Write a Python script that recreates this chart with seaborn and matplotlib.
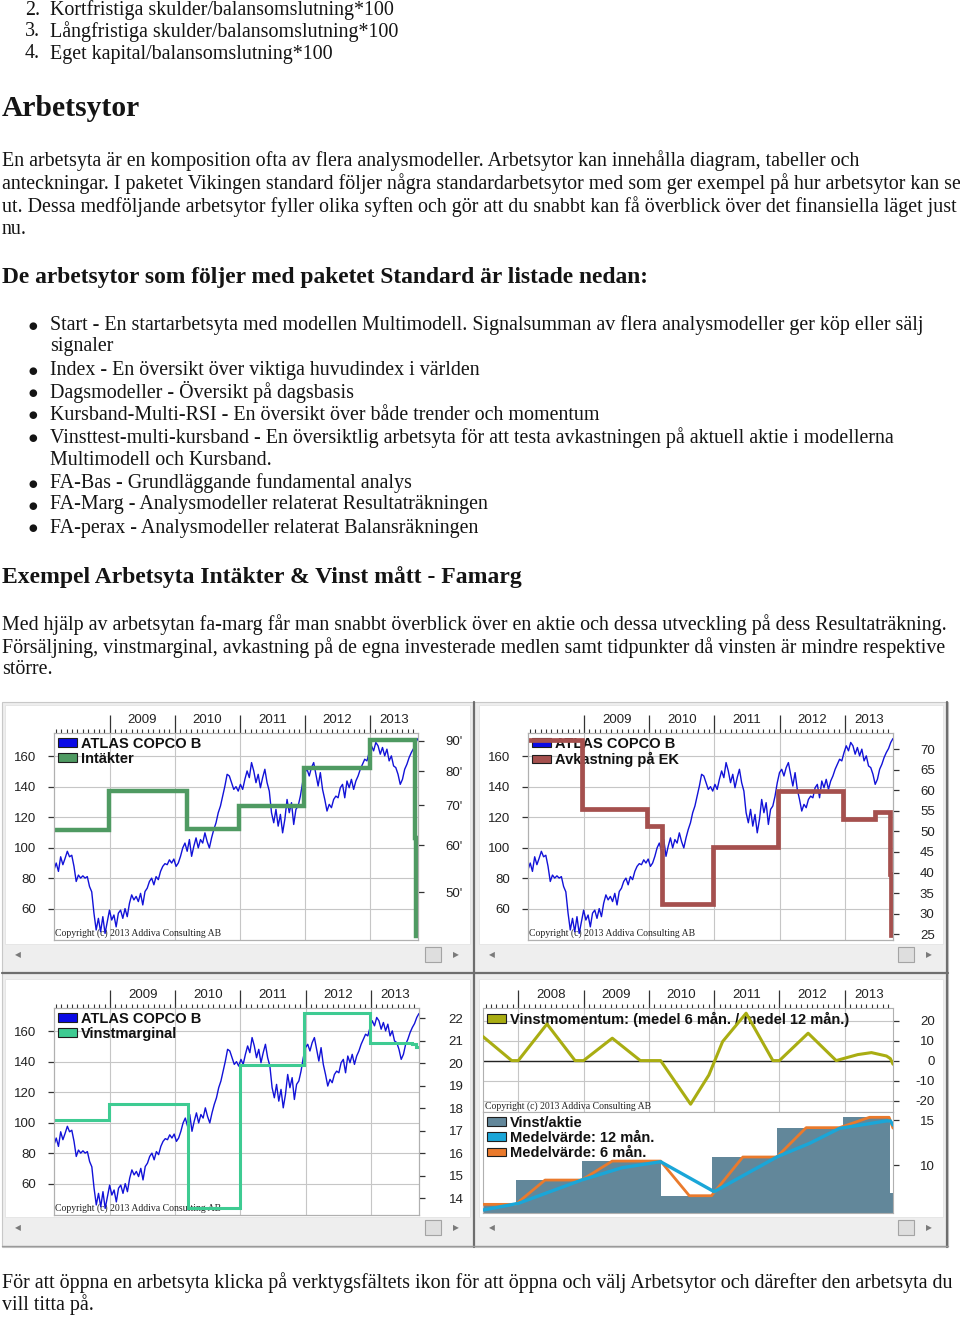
import numpy as np
import pandas as pd
import matplotlib
matplotlib.use("Agg")
import matplotlib.pyplot as plt
import seaborn as sns
from matplotlib.patches import Rectangle, Patch
from matplotlib.lines import Line2D
from matplotlib.ticker import FixedLocator, NullLocator

# ---------------------------------------------------------------- data
numbered_nums = ["2.", "3.", "4."]
numbered_items = ["Kortfristiga skulder/balansomslutning*100",
                  "Långfristiga skulder/balansomslutning*100",
                  "Eget kapital/balansomslutning*100"]
heading1 = "Arbetsytor"
para1 = ["En arbetsyta är en komposition ofta av flera analysmodeller. Arbetsytor kan innehålla diagram, tabeller och",
         "anteckningar. I paketet Vikingen standard följer några standardarbetsytor med som ger exempel på hur arbetsytor kan se",
         "ut. Dessa medföljande arbetsytor fyller olika syften och gör att du snabbt kan få överblick över det finansiella läget just",
         "nu."]
heading2 = "De arbetsytor som följer med paketet Standard är listade nedan:"
bullets = [("Start - En startarbetsyta med modellen Multimodell. Signalsumman av flera analysmodeller ger köp eller sälj", True),
           ("signaler", False),
           ("Index - En översikt över viktiga huvudindex i världen", True),
           ("Dagsmodeller - Översikt på dagsbasis", True),
           ("Kursband-Multi-RSI - En översikt över både trender och momentum", True),
           ("Vinsttest-multi-kursband - En översiktlig arbetsyta för att testa avkastningen på aktuell aktie i modellerna", True),
           ("Multimodell och Kursband.", False),
           ("FA-Bas - Grundläggande fundamental analys", True),
           ("FA-Marg - Analysmodeller relaterat Resultaträkningen", True),
           ("FA-perax - Analysmodeller relaterat Balansräkningen", True)]
heading3 = "Exempel Arbetsyta Intäkter & Vinst mått - Famarg"
para2 = ["Med hjälp av arbetsytan fa-marg får man snabbt överblick över en aktie och dessa utveckling på dess Resultaträkning.",
         "Försäljning, vinstmarginal, avkastning på de egna investerade medlen samt tidpunkter då vinsten är mindre respektive",
         "större."]
para3 = ["För att öppna en arbetsyta klicka på verktygsfältets ikon för att öppna och välj Arbetsytor och därefter den arbetsyta du",
         "vill titta på."]

years = [2008, 2009, 2010, 2011, 2012, 2013]
year_labels = ["2008", "2009", "2010", "2011", "2012", "2013"]
START_A, START_B, DATA_END = 2008.14, 2007.46, 2013.74

stock_name = "ATLAS COPCO B"
stock_price = [85.5, 89.9, 84.4, 94, 88.8, 93, 97.6, 94, 95, 87.7, 77.8, 82, 80, 81.5, 80, 81, 74.5, 71,
               57, 46, 53.6, 44.8, 54.7, 43.7, 51.4, 59, 52.5, 55.8, 48, 57, 59, 53.6, 60, 54.7, 63.5,
               69, 65.7, 68, 64.6, 70, 62.4, 71.2, 73.4, 77.8, 80, 75.6, 81, 79, 84.4, 87.7, 89.5, 88.8,
               92, 89.9, 92.5, 87.7, 89.9, 94.3, 99.8, 103, 97.6, 105.3, 94.3, 100.9, 106.4, 99.8, 105.3,
               103, 109.7, 104, 99.8, 106.4, 111.9, 116.3, 122.9, 127.3, 133.8, 140.4, 148.1, 147, 142.6,
               138.2, 140, 137.1, 141.5, 138.2, 144.8, 150.3, 145.9, 155.8, 150.3, 142.6, 148.1, 139.3,
               145.9, 151.4, 142.6, 137.1, 122.9, 116.3, 125.1, 114.1, 121.8, 109.7, 118.5, 131.6, 122.9,
               129.5, 115.2, 125.1, 127.3, 133.8, 142.6, 149.2, 151.4, 147, 152.5, 155.8, 148.1, 140.4,
               149.2, 138.2, 131.6, 124, 128.4, 126.2, 131.6, 133.8, 132.7, 139.3, 141.5, 132.7, 143.7,
               139.3, 144.8, 138.2, 143.7, 147, 151.4, 154.7, 158, 156.9, 162.4, 166.8, 163.5, 169, 166.8,
               161.3, 165.7, 160.2, 164.6, 156.9, 160.2, 153.6, 152.5, 148.1, 141.5, 144.8, 151.4, 154.7,
               159.1, 162.4, 165, 169, 171.6]
stock_ticks = [60, 80, 100, 120, 140, 160]

intakter_t = [2008.14, 2008.99, 2010.18, 2010.99, 2011.98, 2013.0, 2013.69, 2013.71]
intakter_v = [63.7, 74.0, 63.9, 69.9, 81.1, 90.2, 61.6, 42.2]
intakter_ticks = [50, 60, 70, 80, 90]
intakter_labels = ["50'", "60'", "70'", "80'", "90'"]

avk_t = [2008.14, 2008.97, 2009.97, 2010.2, 2010.98, 2011.97, 2012.98, 2013.47, 2013.69, 2013.71]
avk_v = [72.3, 55.5, 51.4, 32.4, 46.1, 59.9, 53.0, 54.7, 39.7, 24.8]
avk_ticks = [25, 30, 35, 40, 45, 50, 55, 60, 65, 70]

marg_t = [2008.14, 2008.99, 2010.2, 2010.99, 2011.98, 2012.99, 2013.64, 2013.70]
marg_v = [17.48, 18.18, 13.56, 19.93, 22.22, 20.92, 20.85, 20.74]
marg_ticks = [14, 15, 16, 17, 18, 19, 20, 21, 22]

mom_t = [2007.46, 2007.9, 2008.0, 2008.44, 2008.87, 2009.0, 2009.44, 2009.87, 2010.18, 2010.64,
         2010.92, 2011.13, 2011.49, 2011.9, 2012.0, 2012.44, 2012.87, 2013.0, 2013.2, 2013.41,
         2013.64, 2013.7, 2013.74]
mom_v = [12, 0, 0, 18.3, 0, 0, 11.2, 0, 0, -21.8, -7.2, 9.5, 23.7, 0, 0, 13.7, 0, 1.2, 3, 4, 2.3, 1, -1.8]
mom_ticks = [-20, -10, 0, 10, 20]

eps_t = [2007.46, 2007.96, 2008.97, 2010.19, 2010.96, 2011.96, 2012.97, 2013.70]
eps_v = [5.63, 8.33, 10.44, 6.59, 10.89, 14.15, 15.3, 6.85]
ma6_t = [2007.46, 2007.96, 2008.41, 2008.97, 2009.44, 2010.18, 2010.62, 2010.96, 2011.44, 2011.96,
         2012.41, 2012.92, 2013.38, 2013.68, 2013.74]
ma6_v = [5.63, 5.63, 8.33, 8.33, 10.44, 10.44, 6.59, 6.59, 10.89, 10.89, 14.15, 14.15, 15.3, 15.3, 14.1]
ma12_t = [2007.46, 2008.0, 2008.97, 2009.59, 2010.18, 2011.0, 2011.97, 2012.46, 2012.92, 2013.38,
          2013.64, 2013.7, 2013.74]
ma12_v = [5.0, 5.74, 8.33, 9.7, 10.37, 7.04, 10.93, 12.4, 14.07, 14.6, 14.9, 14.9, 14.44]
eps_ticks = [10, 15]

# ---------------------------------------------------------------- setup
sns.set_theme(style="white")
plt.rcParams["font.family"] = ["Liberation Sans", "DejaVu Sans"]
SERIF = ["Liberation Serif", "DejaVu Serif"]
TXT = "#141414"

W, H = 960, 1318
fig = plt.figure(figsize=(W / 100, H / 100), dpi=100)
fig.patch.set_facecolor("white")
R = fig.canvas.get_renderer()


def fx(x):
    return x / W


def fy(y):
    return 1 - y / H


def add_axes_px(x0, y0, x1, y1):
    return fig.add_axes([x0 / W, 1 - y1 / H, (x1 - x0) / W, (y1 - y0) / H])


def rect_px(x0, y0, x1, y1, **kw):
    r = Rectangle((fx(x0), fy(y1)), (x1 - x0) / W, (y1 - y0) / H,
                  transform=fig.transFigure, zorder=-5, **kw)
    fig.patches.append(r)


def line_px(xs, ys, **kw):
    fig.lines.append(Line2D([fx(v) for v in xs], [fy(v) for v in ys],
                            transform=fig.transFigure, zorder=-4, **kw))


# ---------------------------------------------------------------- text
def place_block(lines, x, ys, ref_idx, ref_right, weight="normal", base=13.0):
    texts = [fig.text(fx(x), fy(y), s, fontsize=base, family=SERIF, weight=weight,
                      va="center", ha="left", color=TXT) for s, y in zip(lines, ys)]
    w = texts[ref_idx].get_window_extent(renderer=R).width
    size = base * (ref_right - x) / w
    for t in texts:
        t.set_fontsize(size)
    return size


num_y = [10.5, 32, 54]
s = place_block(numbered_items, 50, num_y, 1, 398)
for n, y in zip(numbered_nums, num_y):
    fig.text(fx(25), fy(y), n, fontsize=s, family=SERIF, va="center", color=TXT)

place_block([heading1], 2, [108], 0, 140, weight="bold", base=20)
place_block(para1, 2, [161, 184, 207, 229], 0, 858)
place_block([heading2], 2, [278], 0, 653, weight="bold", base=16)
b_y = [325, 347, 370, 392, 415, 438, 460, 483, 505, 528]
s = place_block([b[0] for b in bullets], 50, b_y, 0, 921)
for (txt, has_dot), y in zip(bullets, b_y):
    if has_dot:
        fig.text(fx(33), fy(y + 0.5), "●", fontsize=s * 0.5, family=["DejaVu Sans"], va="center",
                 ha="center", color=TXT)
place_block([heading3], 2, [577], 0, 523, weight="bold", base=16)
place_block(para2, 2, [625, 648, 670], 0, 945)
place_block(para3, 2, [1283, 1305], 0, 953)

# ---------------------------------------------------------------- screenshot frame
rect_px(2, 702, 948, 1247, facecolor="#eeeeee", edgecolor="#c8c8c8", lw=0.8)
for (x0, y0, x1, y1) in [(5, 705, 470, 944), (479, 705, 943, 944),
                         (5, 979, 470, 1217), (479, 979, 943, 1217)]:
    rect_px(x0, y0, x1, y1, facecolor="white", edgecolor="#e4e4e4", lw=0.6)
line_px([473.5, 473.5], [702, 1247], color="#6e6e6e", lw=1.6)
line_px([2, 948], [972.5, 972.5], color="#6e6e6e", lw=1.6)
line_px([946.5, 946.5], [702, 1247], color="#6e6e6e", lw=1.6)
line_px([2, 948], [1246, 1246], color="#9a9a9a", lw=1.0)
for (tx0, ty0, la, ra) in [(425, 947, 18, 456), (898, 947, 492, 929),
                           (425, 1220, 18, 456), (898, 1220, 492, 929)]:
    rect_px(tx0, ty0, tx0 + 16, ty0 + 15, facecolor="#dedede", edgecolor="#a4a4a4", lw=0.8)
    fig.text(fx(la), fy(ty0 + 8), "◀", fontsize=5.5, family="DejaVu Sans", color="#7a7a7a",
             ha="center", va="center")
    fig.text(fx(ra), fy(ty0 + 8), "▶", fontsize=5.5, family="DejaVu Sans", color="#7a7a7a",
             ha="center", va="center")

# ---------------------------------------------------------------- chart helpers
GRID = "#c6c6c6"
SPINE = "#b0b0b0"
TICKC = "#333333"
months = np.arange(2007.0, 2014.01, 1 / 12)
LEG_PROP = {"family": ["Liberation Sans", "DejaVu Sans"], "weight": "bold", "size": 10.5}


def time_axis(ax, x0, yrs, show_labels=True):
    ax.set_xlim(x0, DATA_END)
    ax.set_xticks(yrs)
    ax.xaxis.set_minor_locator(FixedLocator(months))
    if show_labels:
        ax.xaxis.set_ticks_position("top")
        ax.tick_params(axis="x", which="major", top=True, bottom=False, length=13, width=0.9,
                       color=TICKC, labeltop=False, labelbottom=False, direction="out")
        ax.tick_params(axis="x", which="minor", top=True, bottom=False, length=3.2, width=0.8,
                       color=TICKC, direction="out")
        pos = [(max(y, x0) + min(y + 1, DATA_END)) / 2 for y in yrs]
        labs = [year_labels[years.index(y)] for y in yrs]
        sec = ax.secondary_xaxis("top")
        sec.set_xticks(pos, labels=labs)
        sec.tick_params(length=0, pad=5, labelsize=9.5, labelcolor="#222222")
        sec.spines["top"].set_visible(False)
    else:
        ax.tick_params(axis="x", which="both", top=False, bottom=False,
                       labeltop=False, labelbottom=False)


def style_spines(ax):
    for sp in ax.spines.values():
        sp.set_visible(True)
        sp.set_color(SPINE)
        sp.set_linewidth(0.8)


def right_axis(ax, ticks, labels, lim, pad, log=False):
    if log:
        ax.set_yscale("log")
    ax.set_ylim(*lim)
    ax.set_yticks(ticks, labels=labels)
    ax.yaxis.set_minor_locator(NullLocator())
    ax.yaxis.tick_right()
    ax.tick_params(axis="y", which="major", right=True, left=False, length=4, width=0.9,
                   color=TICKC, direction="out", pad=pad, labelsize=9.5, labelcolor="#222222")
    plt.setp(ax.get_yticklabels(), ha="right")
    ax.set_ylabel("")


def copyright(ax):
    ax.text(0.004, 0.012, "Copyright (c) 2013 Addiva Consulting AB", transform=ax.transAxes,
            fontsize=7, family=SERIF, color="#222222", va="bottom", ha="left", zorder=2)


def legend(ax, entries):
    hs = [Patch(facecolor=c, edgecolor="#1e1e1e", lw=0.8, label=l) for l, c in entries]
    leg = ax.legend(handles=hs, loc="upper left", bbox_to_anchor=(0.0, 1.0), borderaxespad=0.0,
                    frameon=False, prop=LEG_PROP, handlelength=1.35, handleheight=0.5,
                    handletextpad=0.25, labelspacing=0.08, borderpad=0.25)
    leg.set_zorder(1)
    for t in leg.get_texts():
        t.set_color("#111111")
    return leg


def stock_chart(box, step_t, step_v, color, lw, label, rticks, rlabels, rlim, rpad, log=False):
    ax = add_axes_px(*box)
    ax.set_facecolor("white")
    t = np.linspace(START_A, DATA_END, len(stock_price))
    df = pd.DataFrame({"t": t, "price": stock_price})
    sns.lineplot(data=df, x="t", y="price", ax=ax, color="#1212d8", lw=1.0, errorbar=None, zorder=3)
    ax.set_ylim(39.4, 175.2)
    ax.set_yticks(stock_ticks)
    ax.tick_params(axis="y", which="major", left=True, right=False, length=4, width=0.9,
                   color=TICKC, direction="out", pad=9, labelsize=9.5, labelcolor="#222222")
    ax.set_xlabel("")
    ax.set_ylabel("")
    time_axis(ax, START_A, [2009, 2010, 2011, 2012, 2013])
    ax.grid(True, which="major", axis="both", color=GRID, lw=0.8)
    ax.set_axisbelow(True)
    style_spines(ax)
    legend(ax, [(stock_name, "#0a0ae6"), (label, color)])
    copyright(ax)

    ax2 = ax.twinx()
    sdf = pd.DataFrame({"t": list(step_t) + [DATA_END], "v": list(step_v) + [step_v[-1]]})
    sns.lineplot(data=sdf, x="t", y="v", ax=ax2, color=color, lw=lw, errorbar=None,
                 drawstyle="steps-post", solid_joinstyle="miter")
    ax2.set_xlabel("")
    right_axis(ax2, rticks, rlabels, rlim, rpad, log=log)
    style_spines(ax2)
    ax.set_xlim(START_A, DATA_END)
    return ax, ax2


stock_chart((54, 733, 418, 940), intakter_t, intakter_v, "#4f9a62", 3.2, "Intäkter",
            intakter_ticks, intakter_labels, (41.57, 92.7), 28, log=True)
stock_chart((528, 733, 893, 940), avk_t, avk_v, "#a5504e", 3.4, "Avkastning på EK",
            avk_ticks, [str(v) for v in avk_ticks], (23.6, 73.9), 26)
stock_chart((54, 1008, 419, 1215), marg_t, marg_v, "#3ecb92", 2.2, "Vinstmarginal",
            marg_ticks, [str(v) for v in marg_ticks], (13.26, 22.46), 28)

# ---------------------------------------------------------------- chart 4
axt = add_axes_px(483, 1008, 893, 1112)
axt.set_facecolor("white")
mdf = pd.DataFrame({"t": mom_t, "v": mom_v})
sns.lineplot(data=mdf, x="t", y="v", ax=axt, color="#a9ad12", lw=2.2, errorbar=None, zorder=3)
axt.set_xlabel("")
time_axis(axt, START_B, years)
right_axis(axt, mom_ticks, [str(v) for v in mom_ticks], (-25.7, 26.3), 26)
axt.grid(True, which="major", axis="both", color=GRID, lw=0.8)
axt.set_axisbelow(True)
axt.axhline(0, color="#222222", lw=1.0, zorder=2)
style_spines(axt)
legend(axt, [("Vinstmomentum: (medel 6 mån. / medel 12 mån.)", "#a9ad12")])
copyright(axt)
axt.set_xlim(START_B, DATA_END)

axb = add_axes_px(483, 1112, 893, 1213)
axb.set_facecolor("white")
ylo = 4.67
axb.fill_between(list(eps_t) + [DATA_END], list(eps_v) + [eps_v[-1]], ylo, step="post",
                 color="#62879a", lw=0, zorder=1)
sns.lineplot(data=pd.DataFrame({"t": ma6_t, "v": ma6_v}), x="t", y="v", ax=axb,
             color="#ea7a2c", lw=2.0, errorbar=None, zorder=3)
sns.lineplot(data=pd.DataFrame({"t": ma12_t, "v": ma12_v}), x="t", y="v", ax=axb,
             color="#1aa6d8", lw=2.4, errorbar=None, zorder=4)
axb.set_xlabel("")
time_axis(axb, START_B, years, show_labels=False)
right_axis(axb, eps_ticks, [str(v) for v in eps_ticks], (ylo, 15.89), 26)
axb.grid(False)
style_spines(axb)
legend(axb, [("Vinst/aktie", "#62879a"), ("Medelvärde: 12 mån.", "#1aa6d8"),
             ("Medelvärde: 6 mån.", "#ea7a2c")])
axb.set_xlim(START_B, DATA_END)

fig.savefig("out.png", dpi=100, facecolor="white")
